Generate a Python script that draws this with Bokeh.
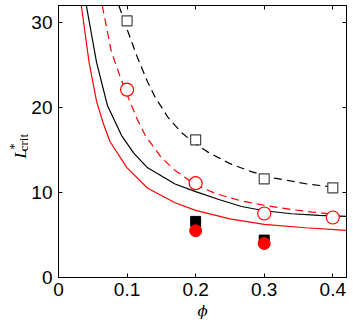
import math
from bokeh.plotting import figure
from bokeh.layouts import row
from bokeh.models import Range1d, LinearAxis, FixedTicker
from bokeh.core.properties import value
from bokeh.embed import file_html
from bokeh.resources import INLINE

# ---- tick values ----
phi_ticks = [0, 0.1, 0.2, 0.3, 0.4]
L_ticks = [0, 10, 20, 30]

# ---- curves ----
bs_phi = [0.0406, 0.0555, 0.0715, 0.092, 0.11, 0.13, 0.17, 0.2, 0.235, 0.267, 0.3, 0.34, 0.38, 0.42]
bs_L   = [32.0, 25.3, 20.2, 16.7, 14.6, 12.9, 11.0, 10.1, 9.15, 8.35, 7.85, 7.5, 7.3, 7.2]

rs_phi = [0.0333, 0.0444, 0.0556, 0.065, 0.075, 0.1, 0.13, 0.17, 0.2, 0.25, 0.3, 0.36, 0.42]
rs_L   = [32.0, 25.4, 20.7, 18.2, 16.0, 12.9, 10.5, 8.8, 7.9, 6.9, 6.25, 5.85, 5.55]

rd_phi = [0.0638, 0.077, 0.09, 0.1, 0.115, 0.1266, 0.15, 0.17, 0.2, 0.23, 0.267, 0.3, 0.339, 0.37, 0.4]
rd_L   = [32.0, 26.6, 23.6, 21.5, 18.6, 16.7, 14.1, 12.6, 10.9, 9.85, 9.0, 8.5, 8.0, 7.7, 7.45]

bd_phi = [0.088, 0.1, 0.115, 0.13, 0.141, 0.16, 0.18, 0.2, 0.218, 0.25, 0.281, 0.315, 0.363, 0.4]
bd_L   = [32.0, 29.2, 25.9, 23.0, 21.2, 18.8, 17.0, 15.7, 14.75, 13.4, 12.45, 11.7, 11.0, 10.65]

# ---- markers ----
osq_phi = [0.1, 0.2, 0.3, 0.4]
osq_L   = [30.2, 16.2, 11.6, 10.55]
ocirc_phi = [0.1, 0.2, 0.3, 0.4]
ocirc_L   = [22.1, 11.1, 7.53, 7.06]
fsq_phi = [0.2, 0.3]
fsq_L   = [6.6, 4.4]
fcirc_phi = [0.2, 0.3]
fcirc_L   = [5.5, 4.0]

H = 324
LW = 28

# ---- narrow panel holding the y-axis title L*_crit ----
lab = figure(width=LW, height=H, x_range=Range1d(0, LW), y_range=Range1d(0, H),
             min_border_left=0, min_border_right=0, min_border_top=0, min_border_bottom=0,
             x_axis_location=None, y_axis_location=None,
             output_backend="svg", toolbar_location=None)
lab.outline_line_color = None
lab.xgrid.visible = False
lab.ygrid.visible = False
lab.background_fill_color = "white"
lab.border_fill_color = "white"
lab.text(x=[20], y=[H - 171], text=["L"], angle=math.pi / 2,
         text_font=value("Liberation Serif"), text_font_style="italic", text_font_size="17px",
         text_align="right", text_baseline="alphabetic", text_color="black")
lab.text(x=[12.5], y=[H - 164], text=["*"], angle=math.pi / 2,
         text_font=value("Liberation Serif"), text_font_size="13px",
         text_align="right", text_baseline="alphabetic", text_color="black")
lab.text(x=[23], y=[H - 153], text=["crit"], angle=math.pi / 2,
         text_font=value("Liberation Serif"), text_font_size="13px",
         text_align="right", text_baseline="alphabetic", text_color="black")

# ---- main plot ----
p = figure(width=348 - LW, height=H,
           min_border_left=56 - LW, min_border_right=2, min_border_top=5, min_border_bottom=47,
           x_range=Range1d(0, 0.42), y_range=Range1d(0, 32),
           output_backend="svg", toolbar_location=None)

p.background_fill_color = "white"
p.border_fill_color = "white"
p.outline_line_color = "black"
p.outline_line_width = 1
p.xgrid.visible = False
p.ygrid.visible = False

tick_font = "Liberation Sans"
tick_size = "19px"

p.xaxis.ticker = FixedTicker(ticks=phi_ticks)
p.yaxis.ticker = FixedTicker(ticks=L_ticks)
p.xaxis.major_label_overrides = {0: "0", 0.1: "0.1", 0.2: "0.2", 0.3: "0.3", 0.4: "0.4"}
for ax in (p.xaxis[0], p.yaxis[0]):
    ax.major_tick_in = 4
    ax.major_tick_out = 0
    ax.minor_tick_line_color = None
    ax.axis_line_color = "black"
    ax.major_tick_line_color = "black"
    ax.major_label_text_font = tick_font
    ax.major_label_text_font_size = tick_size
    ax.major_label_text_color = "black"
p.xaxis.major_label_standoff = 5
p.yaxis.major_label_standoff = 6

p.xaxis.axis_label = "ϕ"
p.xaxis.axis_label_text_font = "DejaVu Serif"
p.xaxis.axis_label_text_font_style = "italic"
p.xaxis.axis_label_text_font_size = "15px"
p.xaxis.axis_label_text_color = "black"
p.xaxis.axis_label_standoff = 3

top = LinearAxis(ticker=FixedTicker(ticks=phi_ticks),
                 major_label_overrides={t: "" for t in phi_ticks},
                 major_label_standoff=0, major_tick_in=4, major_tick_out=0,
                 minor_tick_line_color=None, axis_line_color="black")
right = LinearAxis(ticker=FixedTicker(ticks=L_ticks),
                   major_label_overrides={t: "" for t in L_ticks},
                   major_label_standoff=0, major_tick_in=4, major_tick_out=0,
                   minor_tick_line_color=None, axis_line_color="black")
p.add_layout(top, "above")
p.add_layout(right, "right")

red = "#ff0000"
p.line(rs_phi, rs_L, line_color=red, line_width=1.2)
p.line(bs_phi, bs_L, line_color="black", line_width=1.2)
p.line(rd_phi, rd_L, line_color=red, line_width=1.2, line_dash="8 5")
p.line(bd_phi, bd_L, line_color="black", line_width=1.2, line_dash="8 5")

p.scatter(osq_phi, osq_L, marker="square", size=10, fill_color="white",
          line_color="#444444", line_width=1.2)
p.scatter(ocirc_phi, ocirc_L, marker="circle", size=13, fill_color="white",
          line_color=red, line_width=1.2)
p.scatter(fsq_phi, fsq_L, marker="square", size=10, fill_color="black", line_color="black")
p.scatter(fcirc_phi, fcirc_L, marker="circle", size=12, fill_color=red, line_color=red)

layout = row(lab, p, spacing=0)
open("out.html", "w").write(file_html(layout, INLINE))
